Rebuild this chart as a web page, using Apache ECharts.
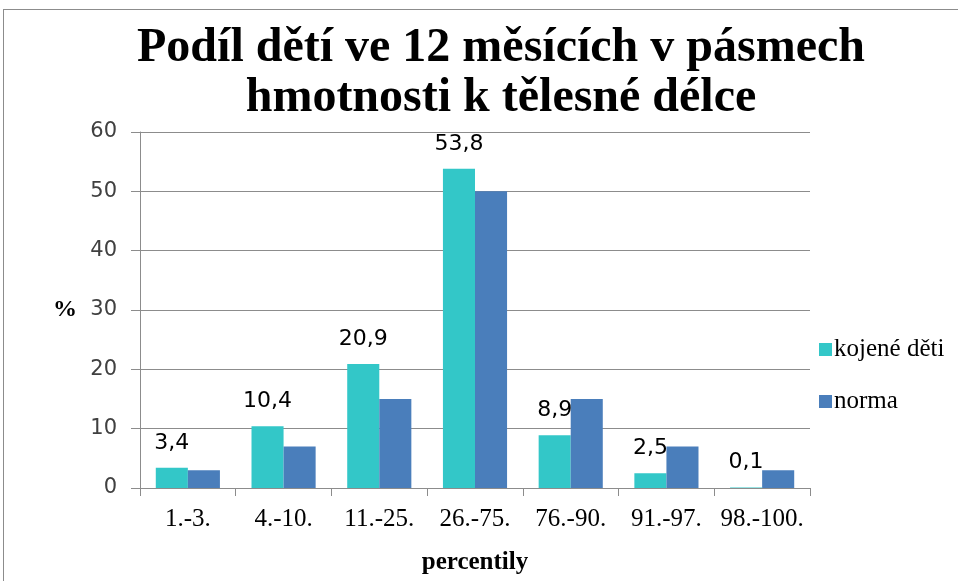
<!DOCTYPE html>
<html>
<head>
<meta charset="utf-8">
<script src="https://cdn.jsdelivr.net/npm/echarts@6/dist/echarts.min.js"></script>
<style>
  html, body { margin: 0; padding: 0; background: #ffffff; }
  #frame { position: absolute; left: 3px; top: 9px; width: 960px; height: 580px; border: 1px solid #8c8c8c; box-sizing: border-box; }
  #chart { position: absolute; left: 0; top: 0; width: 958px; height: 581px; }
</style>
</head>
<body>
<div id="frame"></div>
<div id="chart"></div>
<script>
// kategorie percentilů
var categories = ['1.-3.', '4.-10.', '11.-25.', '26.-75.', '76.-90.', '91.-97.', '98.-100.'];
// hodnoty v %
var kojeneDeti = [3.4, 10.4, 20.9, 53.8, 8.9, 2.5, 0.1];
var norma = [3, 7, 15, 50, 15, 7, 3];
var yTicks = [0, 10, 20, 30, 40, 50, 60];

var myChart = echarts.init(document.getElementById('chart'), null, {renderer: 'canvas'});

var serif = "'Liberation Serif', serif";
var sans = "'DejaVu Sans', sans-serif";

myChart.setOption({
    animation: false,
    color: ['#33c7c8', '#4a7ebb'],
    textStyle: { fontFamily: serif },
    title: {
        text: 'Podíl dětí ve 12 měsících v pásmech\nhmotnosti k tělesné délce',
        left: 496,
        textAlign: 'center',
        top: 19,
        textStyle: {
            fontFamily: serif,
            fontWeight: 'bold',
            fontSize: 48,
            lineHeight: 50,
            color: '#000000'
        }
    },
    legend: {
        orient: 'vertical',
        left: 814,
        top: 332,
        itemGap: 27,
        itemWidth: 13,
        itemHeight: 13,
        icon: 'rect',
        textStyle: { fontFamily: serif, fontSize: 25, color: '#000000', padding: [0, 0, 0, -3] },
        data: ['kojené děti', 'norma']
    },
    grid: {
        left: 140,
        right: 148,
        top: 132,
        bottom: 93
    },
    xAxis: {
        type: 'category',
        data: categories,
        name: 'percentily',
        nameLocation: 'middle',
        nameGap: 62,
        nameTextStyle: { fontFamily: serif, fontWeight: 'bold', fontSize: 25, color: '#000000' },
        axisLine: { lineStyle: { color: '#8c8c8c' } },
        axisTick: { show: true, length: 8, lineStyle: { color: '#8c8c8c' } },
        axisLabel: { interval: 0, hideOverlap: false, fontFamily: serif, fontSize: 25, color: '#000000', margin: 19 }
    },
    yAxis: {
        type: 'value',
        min: yTicks[0],
        max: yTicks[yTicks.length - 1],
        interval: 10,
        name: '%',
        nameLocation: 'middle',
        nameRotate: 0,
        nameGap: 63,
        nameTextStyle: { fontFamily: serif, fontWeight: 'bold', fontSize: 24, color: '#000000' },
        axisLine: { show: true, lineStyle: { color: '#8c8c8c' } },
        axisTick: { show: true, length: 9, lineStyle: { color: '#8c8c8c' } },
        axisLabel: { fontFamily: sans, fontSize: 21, color: '#404040', margin: 23 },
        splitLine: { lineStyle: { color: '#8c8c8c' } }
    },
    series: [
        {
            name: 'kojené děti',
            type: 'bar',
            data: kojeneDeti,
            barGap: '0%',
            barCategoryGap: '33%',
            label: {
                show: true,
                position: 'top',
                distance: 14,
                fontFamily: sans,
                fontSize: 22,
                color: '#000000',
                formatter: function (p) { return p.value.toFixed(1).replace('.', ','); }
            }
        },
        {
            name: 'norma',
            type: 'bar',
            data: norma,
            barGap: '0%',
            barCategoryGap: '33%'
        }
    ]
});
</script>
</body>
</html>
